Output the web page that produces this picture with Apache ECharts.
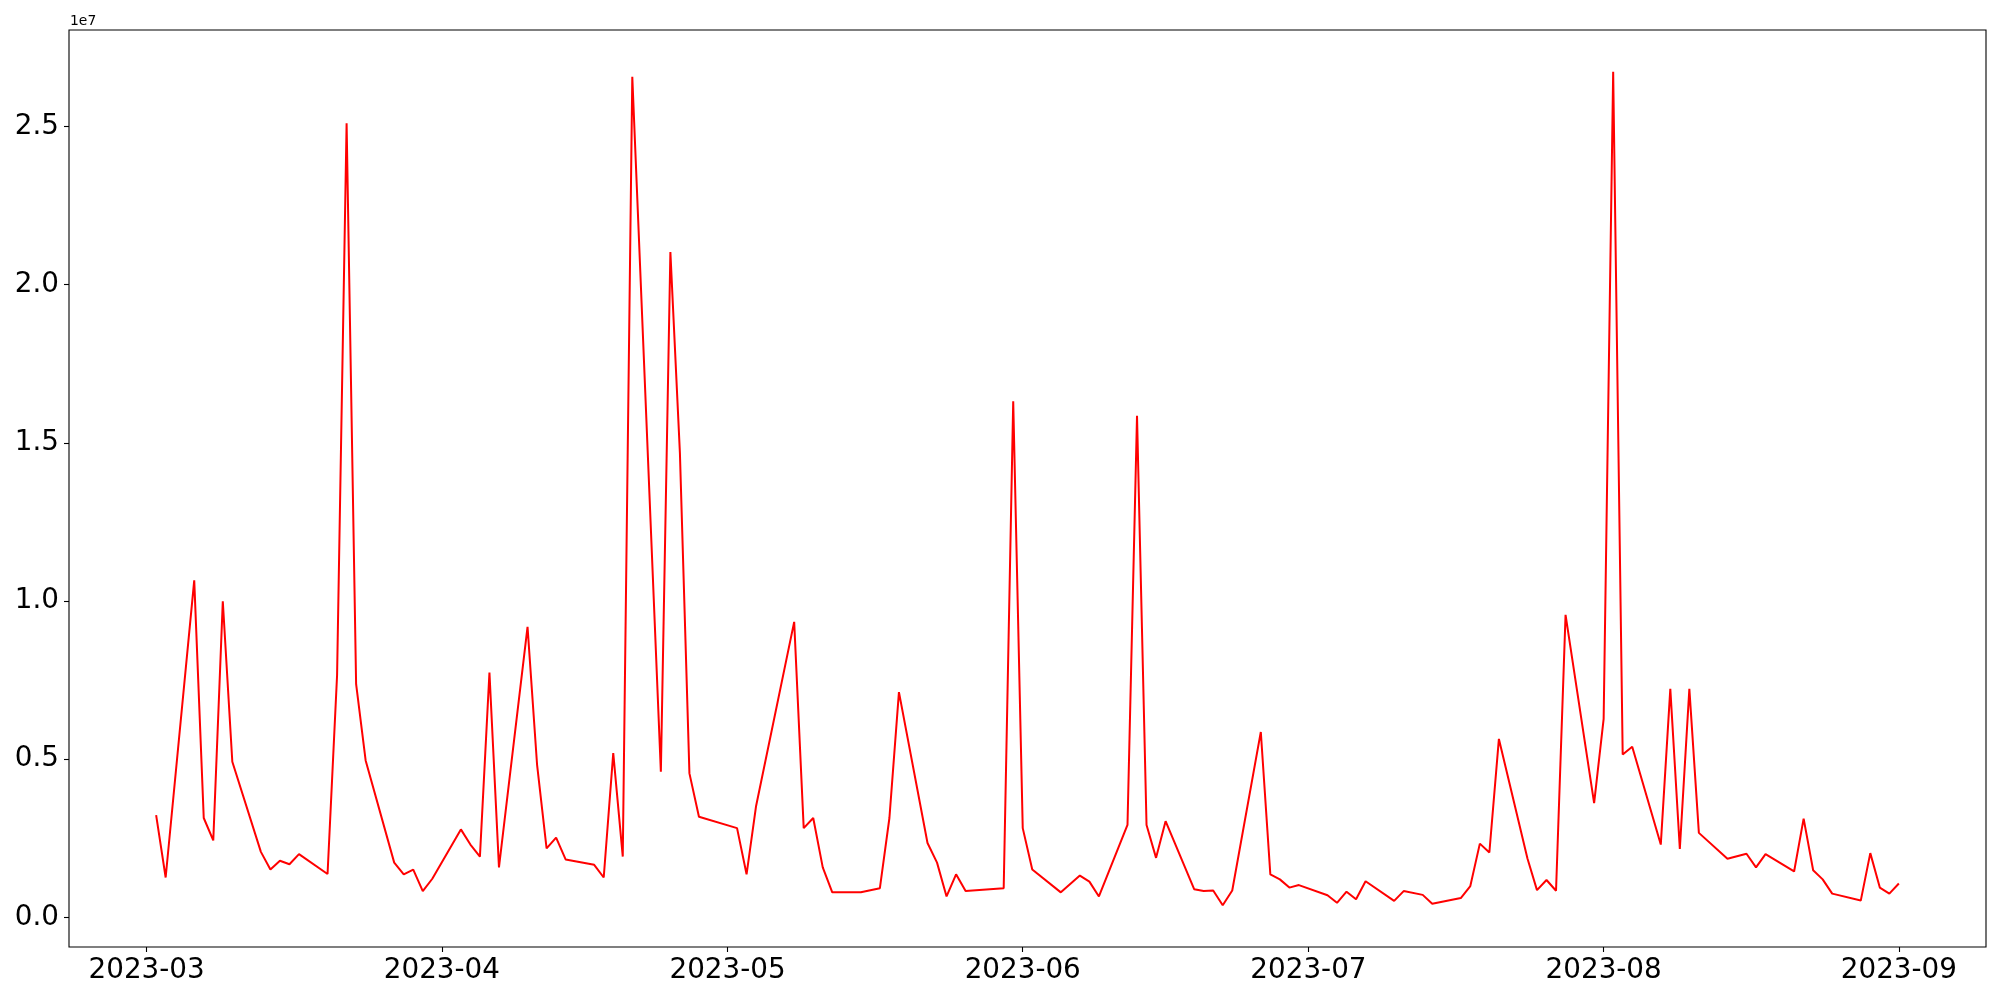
<!DOCTYPE html>
<html>
<head>
<meta charset="utf-8">
<script src="https://cdn.jsdelivr.net/npm/echarts@6/dist/echarts.min.js"></script>
<style>html,body{margin:0;padding:0;background:#fff}#c{width:2000px;height:1000px}</style>
</head>
<body>
<div id="c"></div>
<script>
const dates = [
'2023-03-02','2023-03-03','2023-03-06','2023-03-07','2023-03-08','2023-03-09','2023-03-10',
'2023-03-13','2023-03-14','2023-03-15','2023-03-16','2023-03-17',
'2023-03-20','2023-03-21','2023-03-22','2023-03-23','2023-03-24',
'2023-03-27','2023-03-28','2023-03-29','2023-03-30','2023-03-31',
'2023-04-03','2023-04-04','2023-04-05','2023-04-06','2023-04-07',
'2023-04-10','2023-04-11','2023-04-12','2023-04-13','2023-04-14',
'2023-04-17','2023-04-18','2023-04-19','2023-04-20','2023-04-21',
'2023-04-24','2023-04-25','2023-04-26','2023-04-27','2023-04-28',
'2023-05-02','2023-05-03','2023-05-04',
'2023-05-08','2023-05-09','2023-05-10','2023-05-11','2023-05-12',
'2023-05-15','2023-05-17','2023-05-18','2023-05-19',
'2023-05-22','2023-05-23','2023-05-24','2023-05-25','2023-05-26',
'2023-05-30','2023-05-31','2023-06-01','2023-06-02',
'2023-06-05','2023-06-07','2023-06-08','2023-06-09',
'2023-06-12','2023-06-13','2023-06-14','2023-06-15','2023-06-16',
'2023-06-19','2023-06-20','2023-06-21','2023-06-22','2023-06-23',
'2023-06-26','2023-06-27','2023-06-28','2023-06-29','2023-06-30',
'2023-07-03','2023-07-04','2023-07-05','2023-07-06','2023-07-07',
'2023-07-10','2023-07-11','2023-07-13','2023-07-14',
'2023-07-17','2023-07-18','2023-07-19','2023-07-20','2023-07-21',
'2023-07-24','2023-07-25','2023-07-26','2023-07-27','2023-07-28',
'2023-07-31','2023-08-01','2023-08-02','2023-08-03','2023-08-04',
'2023-08-07','2023-08-08','2023-08-09','2023-08-10','2023-08-11',
'2023-08-14','2023-08-16','2023-08-17','2023-08-18',
'2023-08-21','2023-08-22','2023-08-23','2023-08-24','2023-08-25',
'2023-08-28','2023-08-29','2023-08-30','2023-08-31','2023-09-01'
];
const values = [
3230000,1260000,10650000,3140000,2430000,9990000,4920000,
2070000,1510000,1790000,1680000,2000000,
1370000,7650000,25100000,7370000,4960000,
1730000,1360000,1510000,830000,1220000,
2780000,2300000,1920000,7740000,1580000,
9180000,4830000,2180000,2520000,1830000,
1660000,1260000,5190000,1920000,26570000,
4600000,21030000,14680000,4550000,3180000,
2820000,1360000,3520000,
9340000,2820000,3140000,1580000,790000,
790000,920000,3140000,7120000,
2350000,1730000,660000,1360000,830000,
920000,16310000,2820000,1510000,
790000,1320000,1130000,660000,
2920000,15850000,2920000,1880000,3040000,
890000,830000,850000,380000,850000,
5860000,1360000,1200000,940000,1020000,
700000,460000,810000,570000,1140000,
520000,830000,710000,430000,
610000,990000,2330000,2050000,5640000,
1860000,860000,1180000,840000,9560000,
3610000,6270000,26730000,5150000,5390000,
2300000,7220000,2160000,7220000,2670000,
1850000,2010000,1580000,2000000,
1450000,3120000,1490000,1200000,750000,
530000,2030000,940000,750000,1070000
];
const monthTicks = ['2023-03-01','2023-04-01','2023-05-01','2023-06-01','2023-07-01','2023-08-01','2023-09-01'];
const yTicks = [0, 5000000, 10000000, 15000000, 20000000, 25000000];

function ts(s){ return new Date(s + 'T00:00:00').getTime(); }
const seriesData = dates.map((d,i)=>[ts(d), values[i]]);
const tMin = ts(dates[0]), tMax = ts(dates[dates.length-1]);
const tPad = (tMax - tMin) * 0.05;
const vMin = Math.min(...values), vMax = Math.max(...values);
const vPad = (vMax - vMin) * 0.05;
const FONT = 'DejaVu Sans';

const chart = echarts.init(document.getElementById('c'), null, {renderer:'canvas'});
chart.setOption({
  animation: false,
  backgroundColor: '#ffffff',
  grid: {left: 69, right: 14, top: 30, bottom: 53, show: true, borderColor: '#000', borderWidth: 1.1, backgroundColor: 'transparent', outerBoundsMode: 'none'},
  xAxis: {
    type: 'value',
    min: tMin - tPad, max: tMax + tPad,
    splitLine: {show: false},
    axisLine: {show: false, onZero: false},
    axisTick: {show: true, length: 5, inside: false, lineStyle: {color: '#000', width: 1.1}, customValues: monthTicks.map(ts)},
    axisLabel: {
      color: '#000', fontFamily: FONT, fontSize: 27.8, margin: 10,
      customValues: monthTicks.map(ts),
      formatter: function(v){ const d = new Date(v); return d.getFullYear() + '-' + String(d.getMonth()+1).padStart(2,'0'); }
    }
  },
  yAxis: {
    type: 'value',
    min: vMin - vPad, max: vMax + vPad,
    splitLine: {show: false},
    axisLine: {show: false, onZero: false},
    axisTick: {show: true, length: 5, lineStyle: {color: '#000', width: 1.1}, customValues: yTicks},
    axisLabel: {
      color: '#000', fontFamily: FONT, fontSize: 27.8, margin: 10,
      customValues: yTicks,
      formatter: function(v){ return (v/1e7).toFixed(1); }
    }
  },
  graphic: [{
    type: 'text', left: 70, top: 14,
    style: {text: '1e7', fontFamily: FONT, fontSize: 13.9, fill: '#000'}
  }],
  series: [{
    type: 'line', data: seriesData, showSymbol: false, symbol: 'none',
    lineStyle: {color: '#ff0000', width: 2}, itemStyle: {color: '#ff0000'}
  }]
});
</script>
</body>
</html>
